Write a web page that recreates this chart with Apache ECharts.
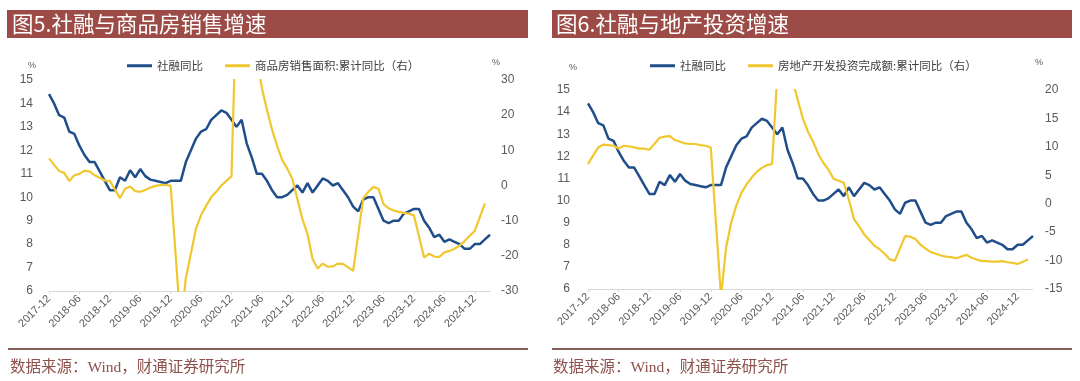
<!DOCTYPE html>
<html>
<head>
<meta charset="utf-8">
<script src="https://cdn.jsdelivr.net/npm/echarts@6/dist/echarts.min.js"></script>
<style>
html,body{margin:0;padding:0;background:#fff;}
#c{width:1080px;height:381px;}
</style>
</head>
<body>
<div id="c"></div>
<script>
// ---- categories (monthly) ----
const months = ['2017-12',
'2018-01','2018-02','2018-03','2018-04','2018-05','2018-06','2018-07','2018-08','2018-09','2018-10','2018-11','2018-12',
'2019-01','2019-02','2019-03','2019-04','2019-05','2019-06','2019-07','2019-08','2019-09','2019-10','2019-11','2019-12',
'2020-01','2020-02','2020-03','2020-04','2020-05','2020-06','2020-07','2020-08','2020-09','2020-10','2020-11','2020-12',
'2021-01','2021-02','2021-03','2021-04','2021-05','2021-06','2021-07','2021-08','2021-09','2021-10','2021-11','2021-12',
'2022-01','2022-02','2022-03','2022-04','2022-05','2022-06','2022-07','2022-08','2022-09','2022-10','2022-11','2022-12',
'2023-01','2023-02','2023-03','2023-04','2023-05','2023-06','2023-07','2023-08','2023-09','2023-10','2023-11','2023-12',
'2024-01','2024-02','2024-03','2024-04','2024-05','2024-06','2024-07','2024-08','2024-09','2024-10','2024-11','2024-12',
'2025-01','2025-02','2025-03'];

// 社融同比 (%)
const tsfYoY = [14.4,
14.0,13.5,13.4,12.8,12.7,12.2,11.8,11.5,11.5,11.1,10.7,10.3,
10.3,10.85,10.7,11.15,10.85,11.2,10.9,10.75,10.7,10.65,10.6,10.7,
10.7,10.7,11.5,12.0,12.5,12.8,12.9,13.3,13.5,13.7,13.6,13.3,
13.0,13.3,12.3,11.7,11.0,11.0,10.7,10.3,10.0,10.0,10.1,10.3,
10.5,10.2,10.6,10.2,10.5,10.8,10.7,10.5,10.6,10.3,10.0,9.6,
9.4,9.9,10.0,10.0,9.5,9.0,8.9,9.0,9.0,9.3,9.4,9.5,
9.5,9.0,8.7,8.3,8.4,8.1,8.2,8.1,8.0,7.8,7.8,8.0,
8.0,8.2,8.4];

// 商品房销售面积:累计同比 (%), January not published
const salesAreaYoY = [7.7,
null,4.1,3.6,1.3,2.9,3.3,4.2,4.0,2.9,2.2,1.4,1.3,
null,-3.6,-0.9,-0.3,-1.6,-1.8,-1.3,-0.6,-0.1,0.1,0.2,-0.1,
null,-39.9,-26.3,-19.3,-12.3,-8.4,-5.8,-3.3,-1.8,0.0,1.3,2.6,
null,104.9,63.8,48.1,36.3,27.7,21.5,15.9,11.3,7.3,4.8,1.9,
null,-9.6,-13.8,-20.9,-23.6,-22.2,-23.1,-23.0,-22.2,-22.3,-23.3,-24.3,
null,-3.6,-1.8,-0.4,-0.9,-5.3,-6.5,-7.1,-7.5,-7.8,-8.0,-8.5,
null,-20.5,-19.4,-20.2,-20.3,-19.0,-18.6,-18.0,-17.1,-15.8,-14.3,-12.9,
null,-5.1,null];

// 房地产开发投资完成额:累计同比 (%)
const reInvestYoY = [7.0,
null,9.9,10.4,10.3,10.2,9.7,10.2,10.1,9.9,9.7,9.7,9.5,
null,11.6,11.8,11.9,11.2,10.9,10.6,10.5,10.5,10.3,10.2,9.9,
null,-16.3,-7.7,-3.3,-0.3,1.9,3.4,4.6,5.6,6.3,6.8,7.0,
null,38.3,25.6,21.6,18.3,15.0,12.7,10.9,8.8,7.2,6.0,4.4,
null,3.7,0.7,-2.7,-4.0,-5.4,-6.4,-7.4,-8.0,-8.8,-9.8,-10.0,
null,-5.7,-5.8,-6.2,-7.2,-7.9,-8.5,-8.8,-9.1,-9.3,-9.4,-9.6,
null,-9.0,-9.5,-9.8,-10.1,-10.1,-10.2,-10.2,-10.1,-10.3,-10.4,-10.6,
null,-9.8,null];

const titles = ['图5.社融与商品房销售增速', '图6.社融与地产投资增速'];
const nameTsf = '社融同比';
const nameSales = '商品房销售面积:累计同比（右）';
const nameInvest = '房地产开发投资完成额:累计同比（右）';
const sourceText = '数据来源：Wind，财通证券研究所';

// ---- styles ----
const BLUE = '#1F4E8A';
const YELLOW = '#F0C72E';
const AXIS_TXT = '#595959';
const BAR = '#9C4B46';
const SRC = '#8E514B';
const RULE = '#85605B';
const NUM_FONT = "'Liberation Sans', Arial, sans-serif";
const CJK_FONT = "'Noto Sans CJK SC', sans-serif";

function xAxis(gridIndex){
  return {
    type:'category', gridIndex, data: months, boundaryGap:false,
    axisLine:{show:true, onZero:false, lineStyle:{color:'#D9D9D9', width:1}},
    axisTick:{show:true, interval:5, length:3, lineStyle:{color:'#D9D9D9'}},
    axisLabel:{interval:5, rotate:45, fontSize:11, color:AXIS_TXT, fontFamily:NUM_FONT, margin:6},
    splitLine:{show:false}
  };
}
function yAxis(gridIndex, pos, min, max, interval, margin){
  return {
    type:'value', gridIndex, position:pos, min, max, interval,
    axisLine:{show:false}, axisTick:{show:false}, splitLine:{show:false},
    axisLabel:{fontSize:12, color:AXIS_TXT, fontFamily:NUM_FONT, margin}
  };
}
function line(name, xi, yi, data, color, width){
  return {
    name, type:'line', xAxisIndex:xi, yAxisIndex:yi, data,
    showSymbol:false, symbol:'none', connectNulls:true, clip:true,
    lineStyle:{color, width}, itemStyle:{color}, animation:false
  };
}
function legend(left, items){
  return {
    left, top:55, itemWidth:25, itemHeight:3, icon:'rect', itemGap:22,
    data: items,
    textStyle:{fontSize:11.5, color:'#404040', fontFamily:CJK_FONT}
  };
}
function txt(x, y, text, size, fill, family, align){
  return {type:'text', x, y, silent:true,
    style:{text, fontSize:size, fill, fontFamily:family, align:align||'left', verticalAlign:'middle'}};
}

const chart = echarts.init(document.getElementById('c'), null, {renderer:'canvas'});
chart.setOption({
  backgroundColor:'#ffffff',
  animation:false,
  grid:[
    {left:49, top:80, width:441, height:211},
    {left:588, top:90, width:445, height:199}
  ],
  xAxis:[xAxis(0), xAxis(1)],
  yAxis:[
    yAxis(0,'left',6,15,1,16),
    yAxis(0,'right',-30,30,10,11),
    yAxis(1,'left',6,15,1,18),
    yAxis(1,'right',-15,20,5,12)
  ],
  legend:[
    legend(122,[nameTsf, nameSales]),
    legend(645,[nameTsf, nameInvest])
  ],
  series:[
    line(nameTsf,0,0,tsfYoY,BLUE,2.5),
    line(nameSales,0,1,salesAreaYoY,YELLOW,2.2),
    line(nameTsf,1,2,tsfYoY,BLUE,2.5),
    line(nameInvest,1,3,reInvestYoY,YELLOW,2.2)
  ],
  graphic:[
    {type:'rect', silent:true, shape:{x:7,y:10,width:521,height:28}, style:{fill:BAR}},
    {type:'rect', silent:true, shape:{x:552,y:10,width:520,height:28}, style:{fill:BAR}},
    txt(12,24,titles[0],21.5,'#ffffff',CJK_FONT),
    txt(556,24,titles[1],21.5,'#ffffff',CJK_FONT),
    txt(32,66,'%',9,AXIS_TXT,NUM_FONT,'center'),
    txt(496,63,'%',9,AXIS_TXT,NUM_FONT,'center'),
    txt(573,68,'%',9,AXIS_TXT,NUM_FONT,'center'),
    txt(1039,63,'%',9,AXIS_TXT,NUM_FONT,'center'),
    {type:'rect', silent:true, shape:{x:8,y:348,width:520,height:2}, style:{fill:RULE}},
    {type:'rect', silent:true, shape:{x:552,y:348,width:520,height:2}, style:{fill:RULE}},
    txt(10,368,sourceText,15.5,SRC,"'Liberation Serif', 'Noto Sans CJK SC', serif"),
    txt(553,368,sourceText,15.5,SRC,"'Liberation Serif', 'Noto Sans CJK SC', serif")
  ]
});
</script>
</body>
</html>
